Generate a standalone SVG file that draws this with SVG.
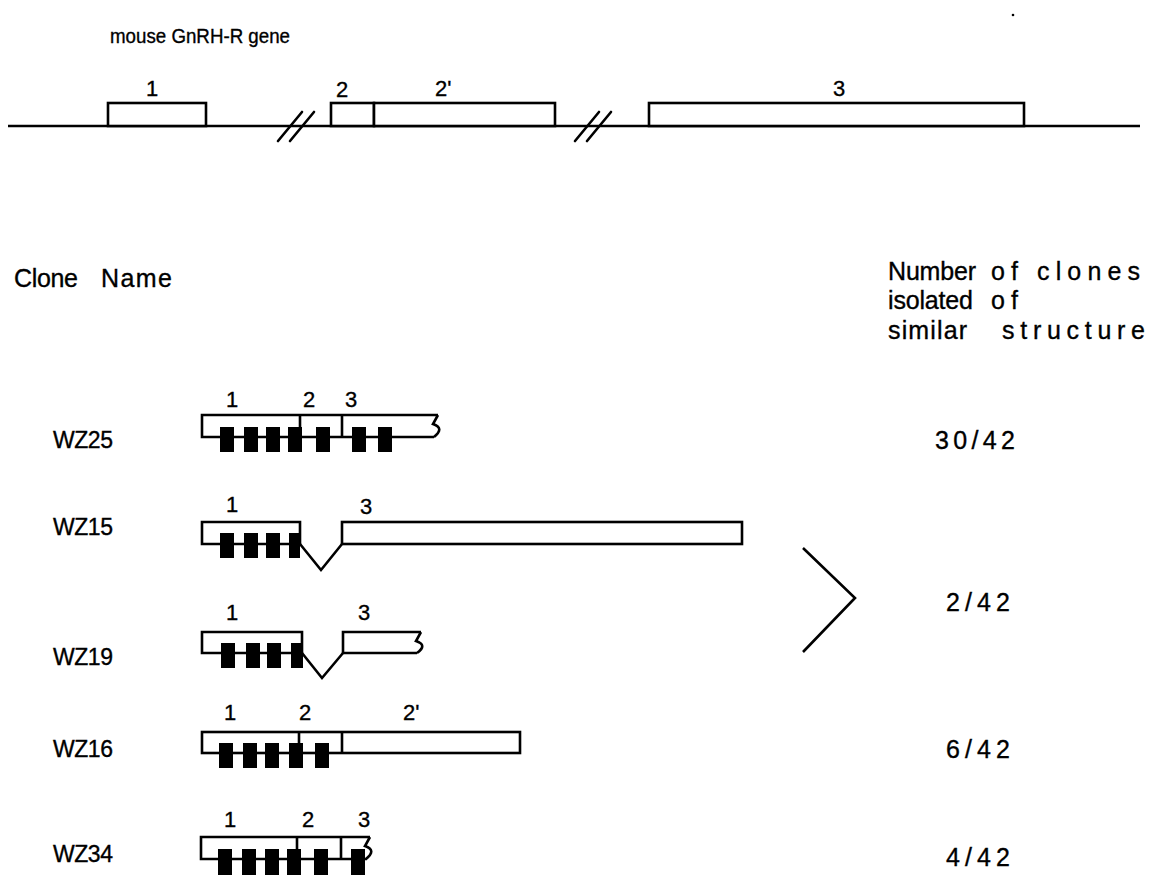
<svg xmlns="http://www.w3.org/2000/svg" width="1149" height="875" viewBox="0 0 1149 875">
<style>
  text { font-family: "Liberation Sans", Arial, sans-serif; fill: #000; stroke: #000; stroke-width: 0.35; }
  .t { font-size: 23px; }
  .h { font-size: 25px; }
  .n { font-size: 22px; }
  .ln { fill: none; stroke: #000; stroke-width: 2.6; stroke-linejoin: miter; }
  .bx { fill: #fff; stroke: #000; stroke-width: 2.6; }
  .blk { fill: #000; }
</style>
<rect width="1149" height="875" fill="#fff"/>

<g id="gene">
  <text x="110" y="43" style="font-size:20px" textLength="180" lengthAdjust="spacingAndGlyphs">mouse  GnRH-R gene</text>
  <line class="ln" x1="8" y1="126" x2="1140" y2="126" stroke-width="2.8"/>
  <rect class="bx" x="108" y="103" width="98" height="23"/>
  <text class="n" x="146" y="96">1</text>
  <rect class="bx" x="331" y="103" width="43" height="23"/>
  <rect class="bx" x="374" y="103" width="181" height="23"/>
  <text class="n" x="336" y="97">2</text>
  <text class="n" x="435" y="96">2'</text>
  <rect class="bx" x="649" y="103" width="375" height="23"/>
  <text class="n" x="833" y="96">3</text>
  <g class="ln" stroke-width="3.2" stroke-linecap="round">
    <line x1="278" y1="141" x2="302" y2="112"/>
    <line x1="290" y1="141" x2="314" y2="112"/>
    <line x1="575" y1="141" x2="599" y2="112"/>
    <line x1="587" y1="141" x2="611" y2="112"/>
  </g>
  <circle cx="1013" cy="15" r="1.3" fill="#000"/>
</g>

<g id="headers">
  <text class="h" y="287"><tspan x="14" textLength="64" lengthAdjust="spacing">Clone</tspan><tspan x="101" textLength="71" lengthAdjust="spacing">Name</tspan></text>
  <text class="h" y="280"><tspan x="888" textLength="88" lengthAdjust="spacing">Number</tspan><tspan x="991" textLength="27" lengthAdjust="spacing">of</tspan><tspan x="1037" textLength="103" lengthAdjust="spacing">clones</tspan></text>
  <text class="h" y="309"><tspan x="888" textLength="85" lengthAdjust="spacing">isolated</tspan><tspan x="991" textLength="27" lengthAdjust="spacing">of</tspan></text>
  <text class="h" y="339"><tspan x="888" textLength="79" lengthAdjust="spacing">similar</tspan><tspan x="1002" textLength="143" lengthAdjust="spacing">structure</tspan></text>
</g>

<g id="WZ25">
  <text class="t" x="53" y="448" textLength="60" lengthAdjust="spacing">WZ25</text>
  <text class="n" x="226" y="407">1</text>
  <text class="n" x="303" y="407">2</text>
  <text class="n" x="345" y="407">3</text>
  <path class="ln" d="M438,415 H202 V437 H434 M438,415 L433,424 Q445,428 434,437 M300,415 V437 M342,415 V437"/>
  <g class="blk">
    <rect x="220" y="427" width="14" height="25"/>
    <rect x="244" y="427" width="14" height="25"/>
    <rect x="266" y="427" width="14" height="25"/>
    <rect x="288" y="427" width="14" height="25"/>
    <rect x="316" y="427" width="14" height="25"/>
    <rect x="352" y="427" width="14" height="25"/>
    <rect x="378" y="427" width="14" height="25"/>
  </g>
</g>

<g id="WZ15">
  <text class="t" x="53" y="535" textLength="60" lengthAdjust="spacing">WZ15</text>
  <text class="n" x="226" y="512">1</text>
  <text class="n" x="360" y="514">3</text>
  <path class="ln" d="M202,522 H300 V544 H202 Z"/>
  <rect class="bx" x="342" y="522" width="400" height="22"/>
  <path class="ln" d="M300,544 L321,570 L342,544"/>
  <g class="blk">
    <rect x="220" y="533" width="14" height="25"/>
    <rect x="244" y="533" width="14" height="25"/>
    <rect x="266" y="533" width="14" height="25"/>
    <rect x="289" y="533" width="11" height="25"/>
  </g>
</g>

<g id="WZ19">
  <text class="t" x="53" y="665" textLength="60" lengthAdjust="spacing">WZ19</text>
  <text class="n" x="226" y="620">1</text>
  <text class="n" x="358" y="620">3</text>
  <path class="ln" d="M202,632 H302 V653 H202 Z"/>
  <path class="ln" d="M421,632 H343 V653 H417 M421,632 L416,641 Q428,645 417,653"/>
  <path class="ln" d="M302,653 L322,678 L343,653"/>
  <g class="blk">
    <rect x="221" y="643" width="14" height="25"/>
    <rect x="246" y="643" width="14" height="25"/>
    <rect x="267" y="643" width="14" height="25"/>
    <rect x="291" y="643" width="12" height="25"/>
  </g>
</g>

<g id="WZ16">
  <text class="t" x="53" y="757" textLength="60" lengthAdjust="spacing">WZ16</text>
  <text class="n" x="224" y="720">1</text>
  <text class="n" x="299" y="720">2</text>
  <text class="n" x="403" y="720">2'</text>
  <rect class="bx" x="202" y="732" width="318" height="21"/>
  <path class="ln" d="M299,732 V753 M342,732 V753"/>
  <g class="blk">
    <rect x="219" y="743" width="14" height="25"/>
    <rect x="243" y="743" width="14" height="25"/>
    <rect x="265" y="743" width="14" height="25"/>
    <rect x="289" y="743" width="14" height="25"/>
    <rect x="315" y="743" width="14" height="25"/>
  </g>
</g>

<g id="WZ34">
  <text class="t" x="53" y="862" textLength="60" lengthAdjust="spacing">WZ34</text>
  <text class="n" x="224" y="827">1</text>
  <text class="n" x="302" y="827">2</text>
  <text class="n" x="358" y="827">3</text>
  <path class="ln" d="M370,837 H201 V859 H367 M370,837 L365,846 Q377,850 366,859 M297,837 V859 M341,837 V859"/>
  <g class="blk">
    <rect x="218" y="849" width="14" height="26"/>
    <rect x="242" y="849" width="14" height="26"/>
    <rect x="265" y="849" width="14" height="26"/>
    <rect x="287" y="849" width="14" height="26"/>
    <rect x="314" y="849" width="14" height="26"/>
    <rect x="351" y="849" width="14" height="26"/>
  </g>
</g>

<g id="connectors">
  <path class="ln" d="M803,548 L855,598 L803,652" stroke-width="3.2"/>
</g>

<g id="counts">
  <text class="h" x="935" y="449" textLength="80" lengthAdjust="spacing">30/42</text>
  <text class="h" x="946" y="611" textLength="64" lengthAdjust="spacing">2/42</text>
  <text class="h" x="946" y="758" textLength="64" lengthAdjust="spacing">6/42</text>
  <text class="h" x="946" y="866" textLength="64" lengthAdjust="spacing">4/42</text>
</g>
</svg>
